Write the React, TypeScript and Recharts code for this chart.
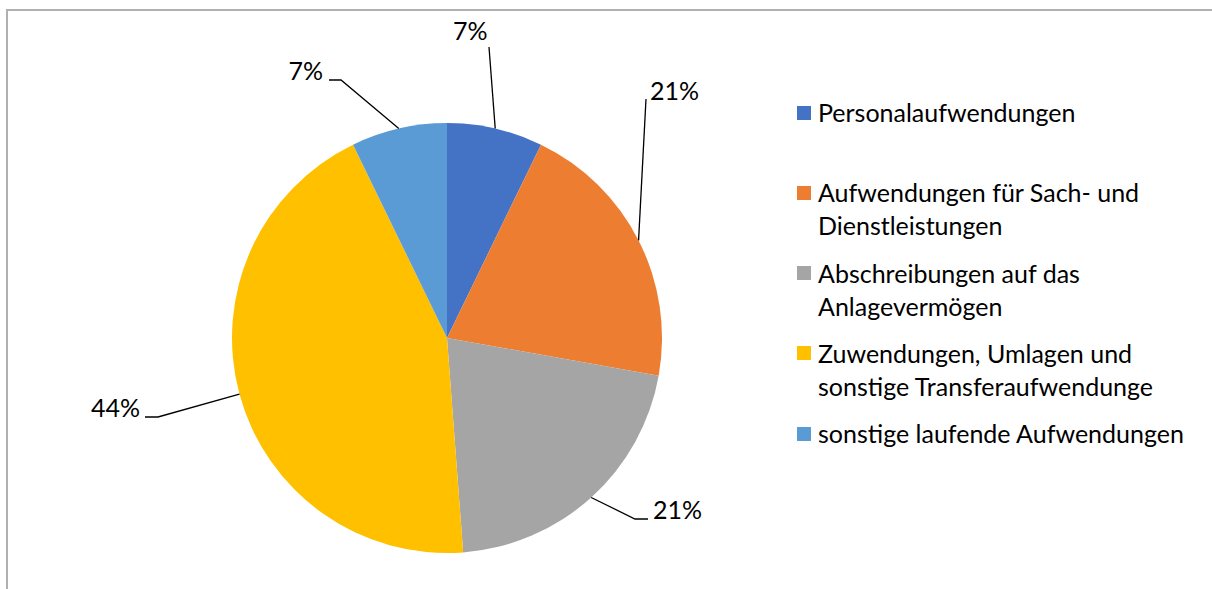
import { PieChart, Pie, Cell, Legend } from 'recharts'

// Anteile (in %) je Aufwandsart, im Uhrzeigersinn ab 12 Uhr
const categories = [
  'Personalaufwendungen',
  'Aufwendungen für Sach- und Dienstleistungen',
  'Abschreibungen auf das Anlagevermögen',
  'Zuwendungen, Umlagen und sonstige Transferaufwendungen',
  'sonstige laufende Aufwendungen',
]
const shares = [7.2, 20.6, 21.0, 44.0, 7.2]
// so wie im Original umbrochen (letzte Zeile abgeschnitten)
const legendLines = [
  ['Personalaufwendungen'],
  ['Aufwendungen für Sach- und', 'Dienstleistungen'],
  ['Abschreibungen auf das', 'Anlagevermögen'],
  ['Zuwendungen, Umlagen und', 'sonstige Transferaufwendunge'],
  ['sonstige laufende Aufwendungen'],
]
const colors = ['#4472C4', '#ED7D31', '#A5A5A5', '#FFC000', '#5B9BD5']

const FONT = 'Lato, "Open Sans", sans-serif'

// Beschriftung + Führungslinie, relativ zum Kreismittelpunkt (Excel-artige Platzierung)
const labelLayout = [
  { x: 6, y: -298, anchor: 'start', leader: [[42, -291]] },
  { x: 203, y: -238, anchor: 'start', leader: [[199, -239]] },
  { x: 206, y: 181, anchor: 'start', leader: [[188, 181], [201, 181]] },
  { x: -307, y: 79, anchor: 'end', leader: [[-289, 79], [-302, 79]] },
  { x: -124, y: -258, anchor: 'end', leader: [[-106, -258], [-118, -258]] },
]

const data = categories.map((name, i) => ({ name, value: shares[i] }))
const total = shares.reduce((a, b) => a + b, 0)

const RAD = Math.PI / 180

function renderLabel(props: any) {
  const { cx, cy, midAngle, outerRadius, index, value } = props
  const l = labelLayout[index]
  const sx = cx + outerRadius * Math.cos(-midAngle * RAD)
  const sy = cy + outerRadius * Math.sin(-midAngle * RAD)
  const pts = [[sx, sy], ...l.leader.map(([dx, dy]) => [cx + dx, cy + dy])]
  return (
    <g key={`lbl-${index}`}>
      <polyline
        points={pts.map(p => p.join(',')).join(' ')}
        fill="none"
        stroke="#000"
        strokeWidth={1.3}
      />
      <text
        x={cx + l.x}
        y={cy + l.y}
        textAnchor={l.anchor as any}
        fontSize={25}
        fontFamily={FONT}
        fill="#000"
      >
        {Math.round((value / total) * 100)}%
      </text>
    </g>
  )
}

function renderLegend() {
  return (
    <div style={{ fontFamily: FONT, fontSize: 25, color: '#000' }}>
      {legendLines.map((lines, i) => (
        <div key={i} style={{ height: 80.3, display: 'flex', alignItems: 'flex-start' }}>
          <div
            style={{
              width: 14,
              height: 14,
              background: colors[i],
              marginTop: 9.5,
              marginRight: 7,
              flexShrink: 0,
            }}
          />
          <div style={{ lineHeight: '33px', whiteSpace: 'nowrap' }}>
            {lines.map((t, j) => (
              <div key={j}>{t}</div>
            ))}
          </div>
        </div>
      ))}
    </div>
  )
}

export default function App() {
  return (
    <div style={{ position: 'absolute', left: 0, top: 0, width: 1212, height: 589, background: '#fff' }}>
      {/* Diagrammrahmen */}
      <div
        style={{
          position: 'absolute',
          left: 6,
          top: 9,
          width: 1220,
          height: 600,
          borderTop: '2px solid #B0B0B0',
          borderLeft: '2px solid #B0B0B0',
        }}
      />
      <div style={{ position: 'absolute', left: 0, top: 0 }}>
        <PieChart width={1212} height={589} margin={{ top: 0, right: 0, bottom: 0, left: 0 }}>
          <Pie
            data={data}
            dataKey="value"
            nameKey="name"
            cx={447}
            cy={338}
            outerRadius={215}
            startAngle={90}
            endAngle={-270}
            stroke="none"
            label={renderLabel}
            labelLine={false}
            isAnimationActive={false}
          >
            {data.map((_, i) => (
              <Cell key={i} fill={colors[i]} />
            ))}
          </Pie>
          <Legend
            content={renderLegend}
            wrapperStyle={{ position: 'absolute', left: 797, top: 96, width: 400 }}
          />
        </PieChart>
      </div>
    </div>
  )
}
